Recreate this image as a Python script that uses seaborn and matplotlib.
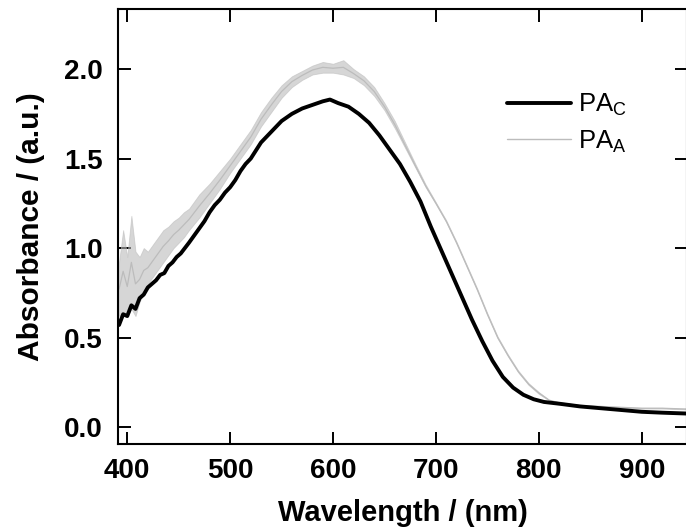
import numpy as np
import pandas as pd
import matplotlib
matplotlib.use("Agg")
import matplotlib.pyplot as plt
import seaborn as sns
from matplotlib.lines import Line2D

# ---- data ----
wl_c = [392, 396, 400, 404, 408, 412, 416, 420, 424, 428, 432, 436, 440, 444, 448,
        452, 456, 460, 465, 470, 475, 480, 485, 490, 495, 500, 505, 510, 515, 520,
        530, 540, 550, 560, 570, 580, 590, 597, 605, 615, 625, 635, 645, 655, 665,
        675, 685, 695, 705, 715, 725, 735, 745, 755, 765, 775, 785, 795, 805, 820,
        840, 860, 880, 900, 920, 945]
abs_c = [0.57, 0.63, 0.62, 0.68, 0.66, 0.72, 0.74, 0.78, 0.80, 0.82, 0.85, 0.86, 0.90, 0.92, 0.95,
         0.97, 1.00, 1.03, 1.07, 1.11, 1.15, 1.20, 1.24, 1.27, 1.31, 1.34, 1.38, 1.43, 1.47, 1.50,
         1.59, 1.65, 1.71, 1.75, 1.78, 1.80, 1.82, 1.83, 1.81, 1.79, 1.75, 1.70, 1.63, 1.55, 1.47,
         1.37, 1.26, 1.12, 0.99, 0.86, 0.73, 0.60, 0.48, 0.37, 0.28, 0.22, 0.18, 0.155, 0.14, 0.13,
         0.115, 0.105, 0.095, 0.085, 0.08, 0.075]

wl_a = [392, 396, 400, 404, 408, 412, 416, 420, 425, 430, 435, 440, 445, 450, 455,
        460, 470, 480, 490, 500, 510, 520, 530, 540, 550, 560, 570, 580, 590, 600,
        610, 620, 630, 640, 650, 660, 670, 680, 690, 700, 710, 720, 730, 740, 750,
        760, 770, 780, 790, 800, 810, 820, 840, 860, 880, 900, 920, 945]
abs_a_low = [0.62, 0.64, 0.62, 0.66, 0.62, 0.70, 0.75, 0.80, 0.84, 0.88, 0.92, 0.96, 1.00, 1.03, 1.06,
             1.10, 1.17, 1.25, 1.33, 1.42, 1.50, 1.58, 1.68, 1.76, 1.84, 1.90, 1.94, 1.97, 1.98, 1.98,
             1.97, 1.95, 1.91, 1.85, 1.77, 1.67, 1.56, 1.45, 1.34, 1.245, 1.145, 1.025, 0.895, 0.765, 0.625,
             0.495, 0.395, 0.305, 0.235, 0.185, 0.148, 0.133, 0.118, 0.113, 0.108, 0.103, 0.103, 0.098]
abs_a_high = [0.92, 1.10, 0.95, 1.18, 0.98, 0.95, 1.00, 0.98, 1.02, 1.06, 1.10, 1.12, 1.15, 1.17, 1.20,
              1.22, 1.30, 1.36, 1.43, 1.50, 1.58, 1.66, 1.76, 1.84, 1.91, 1.96, 1.99, 2.02, 2.04, 2.03,
              2.05, 2.00, 1.96, 1.90, 1.81, 1.71, 1.59, 1.47, 1.355, 1.255, 1.155, 1.035, 0.905, 0.775, 0.635,
              0.505, 0.405, 0.315, 0.245, 0.195, 0.152, 0.137, 0.122, 0.117, 0.112, 0.107, 0.107, 0.102]

labels = ["PA$_\\mathrm{C}$", "PA$_\\mathrm{A}$"]
x_ticks = [400, 500, 600, 700, 800, 900]
y_ticks = [0.0, 0.5, 1.0, 1.5, 2.0]

df_c = pd.DataFrame({"wl": wl_c, "A": abs_c})
df_a = pd.DataFrame({"wl": wl_a * 2, "A": abs_a_low + abs_a_high})

sns.set_style("ticks")
plt.rcParams["font.family"] = ["Liberation Sans", "DejaVu Sans"]
plt.rcParams["mathtext.fontset"] = "custom"
plt.rcParams["mathtext.rm"] = "Liberation Sans"
for k in ["text.color", "axes.labelcolor", "xtick.color", "ytick.color", "axes.edgecolor"]:
    plt.rcParams[k] = "black"

fig = plt.figure(figsize=(6.86, 5.32), dpi=100)
ax = fig.add_axes([118 / 686, 1 - 444 / 532, 569 / 686, 435 / 532])

gray = "#bcbcbc"
sns.lineplot(data=df_a, x="wl", y="A", ax=ax, color=gray, lw=0.9,
             estimator="mean", errorbar=("pi", 100),
             err_kws={"alpha": 0.6, "lw": 0.6})
sns.lineplot(data=df_c, x="wl", y="A", ax=ax, color="black", lw=2.8)

ax.set_xlim(391, 944)
ax.set_ylim(-0.095, 2.336)
ax.set_xticks(x_ticks)
ax.set_yticks(y_ticks)
ax.set_yticklabels([f"{v:.1f}" for v in y_ticks])

for s in ax.spines.values():
    s.set_linewidth(1.5)
    s.set_color("black")
ax.tick_params(direction="in", length=9, width=1.4, top=True, right=True,
               labelsize=20, pad=10, colors="black")
ax.tick_params(axis="y", pad=11)
for t in ax.get_xticklabels() + ax.get_yticklabels():
    t.set_fontweight("bold")

ax.set_xlabel("Wavelength / (nm)", fontsize=21, fontweight="bold", labelpad=11)
ax.set_ylabel("Absorbance / (a.u.)", fontsize=21.5, fontweight="bold", labelpad=14)

handles = [Line2D([], [], color="black", lw=2.8), Line2D([], [], color=gray, lw=1.0)]
leg = ax.legend(handles, labels, loc="upper left", bbox_to_anchor=(0.684, 0.81),
                frameon=False, fontsize=18.5, handlelength=2.5, handletextpad=0.25,
                labelspacing=0.4, borderpad=0, borderaxespad=0)

fig.savefig("out.png", dpi=100)
